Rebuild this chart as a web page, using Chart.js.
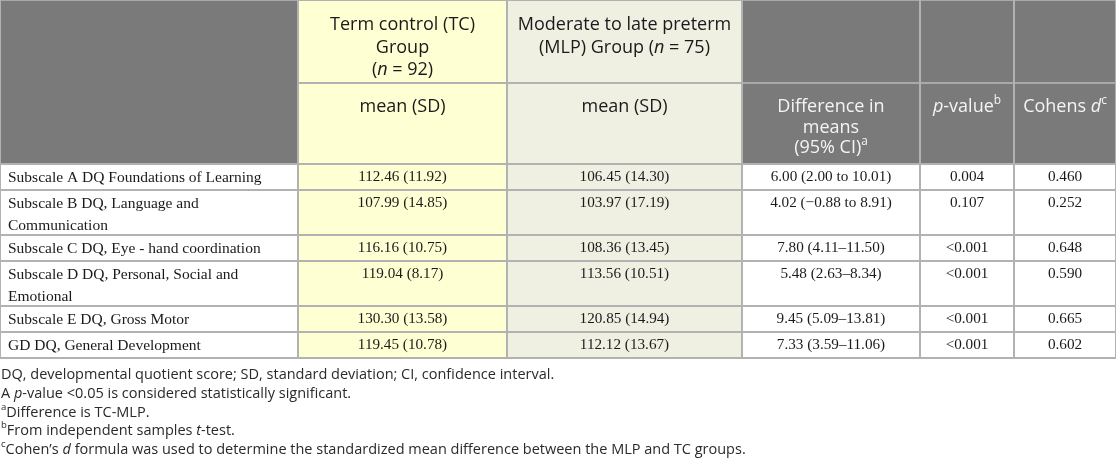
<!DOCTYPE html>
<html>
<head>
<meta charset="utf-8">
<script src="https://cdn.jsdelivr.net/npm/chart.js@4.4.1/dist/chart.umd.min.js"></script>
<style>
  html, body { margin: 0; padding: 0; background: #fff; }
  #wrap { width: 1116px; height: 467px; position: relative; }
</style>
</head>
<body>
<div id="wrap"><canvas id="dqTable"></canvas></div>
<script>
// ---- data ----
const rowLabels = [
  ['Subscale A DQ Foundations of Learning'],
  ['Subscale B DQ, Language and', 'Communication'],
  ['Subscale C DQ, Eye - hand coordination'],
  ['Subscale D DQ, Personal, Social and', 'Emotional'],
  ['Subscale E DQ, Gross Motor'],
  ['GD DQ, General Development']
];
const tcN = 92;
const mlpN = 75;
const tcMean = [112.46, 107.99, 116.16, 119.04, 130.30, 119.45];
const tcSD = [11.92, 14.85, 10.75, 8.17, 13.58, 10.78];
const mlpMean = [106.45, 103.97, 108.36, 113.56, 120.85, 112.12];
const mlpSD = [14.30, 17.19, 13.45, 10.51, 14.94, 13.67];
const meanDiff = [6.00, 4.02, 7.80, 5.48, 9.45, 7.33];
const ciLow = [2.00, -0.88, 4.11, 2.63, 5.09, 3.59];
const ciHigh = [10.01, 8.91, 11.50, 8.34, 13.81, 11.06];
const ciSep = [' to ', ' to ', '–', '–', '–', '–'];
const pValues = ['0.004', '0.107', '<0.001', '<0.001', '<0.001', '<0.001'];
const cohensD = [0.460, 0.252, 0.648, 0.590, 0.665, 0.602];

// header texts (_x_ = italic, ^x^ = superscript)
const headTop = [
  [],
  ['Term control (TC)', 'Group', '(_n_ = ' + tcN + ')'],
  ['Moderate to late preterm', '(MLP) Group (_n_ = ' + mlpN + ')'],
  [], [], []
];
const headSub = [
  [],
  ['mean (SD)'],
  ['mean (SD)'],
  ['Difference in', 'means', '(95% CI)^a^'],
  ['_p_-value^b^'],
  ['Cohens _d_^c^']
];
const footnotes = [
  'DQ, developmental quotient score; SD, standard deviation; CI, confidence interval.',
  'A _p_-value <0.05 is considered statistically significant.',
  '^a^Difference is TC-MLP.',
  '^b^From independent samples _t_-test.',
  '^c^Cohen\u2019s _d_ formula was used to determine the standardized mean difference between the MLP and TC groups.'
];

// ---- layout (table units) ----
const colEdges = [0, 298, 507, 742, 920, 1014, 1116];
const rowEdges = [0, 83, 164, 190, 235, 261, 306, 332, 358];
const footTop = 375, footStep = 18.7;

const fmt = v => (v < 0 ? '\u2212' + Math.abs(v).toFixed(2) : v.toFixed(2));
function bodyCells(i) {
  return [
    rowLabels[i],
    [tcMean[i].toFixed(2) + ' (' + tcSD[i].toFixed(2) + ')'],
    [mlpMean[i].toFixed(2) + ' (' + mlpSD[i].toFixed(2) + ')'],
    [meanDiff[i].toFixed(2) + ' (' + fmt(ciLow[i]) + ciSep[i] + fmt(ciHigh[i]) + ')'],
    [pValues[i]],
    [cohensD[i].toFixed(3)]
  ];
}

const HEAD_GRAY = '#7a7a7a';
const LINE = '#b2b2b2';
const HEAD_LINE = '#a9a9a9';
const YELLOW = '#ffffd4';
const BEIGE = '#efefe2';
const SANS = '"Open Sans"';
const SERIF = '"Liberation Serif"';

function parseRich(str) {
  const segs = [];
  const re = /(_[^_]+_|\^[^^]+\^)/g;
  let last = 0, m;
  while ((m = re.exec(str))) {
    if (m.index > last) segs.push({ t: str.slice(last, m.index) });
    const tok = m[0];
    if (tok[0] === '_') segs.push({ t: tok.slice(1, -1), i: true });
    else segs.push({ t: tok.slice(1, -1), s: true });
    last = m.index + tok.length;
  }
  if (last < str.length) segs.push({ t: str.slice(last) });
  return segs;
}

function drawRich(ctx, str, x, y, align, size, family, color) {
  const segs = parseRich(str);
  const fontOf = s => (s.i ? 'italic ' : '') + (s.s ? size * 0.66 : size) + 'px ' + family;
  let w = 0;
  segs.forEach(s => { ctx.font = fontOf(s); s.w = ctx.measureText(s.t).width; w += s.w; });
  let cx = align === 'center' ? x - w / 2 : x;
  ctx.fillStyle = color;
  ctx.textAlign = 'left';
  ctx.textBaseline = 'middle';
  segs.forEach(s => {
    ctx.font = fontOf(s);
    ctx.fillText(s.t, cx, s.s ? y - size * 0.38 : y);
    cx += s.w;
  });
}

const tablePlugin = {
  id: 'tablePlugin',
  afterDraw(chart) {
    const { ctx } = chart;
    const xs = chart.scales.x, ys = chart.scales.y;
    const X = v => xs.getPixelForValue(v);
    const Y = v => ys.getPixelForValue(v);
    const nCols = colEdges.length - 1;
    const nRows = rowEdges.length - 1;
    const top = rowEdges[0], bottom = rowEdges[nRows];
    ctx.save();

    // cell fills
    for (let c = 0; c < nCols; c++) {
      for (let r = 0; r < nRows; r++) {
        let fill = '#ffffff';
        if (c === 1) fill = YELLOW;
        else if (c === 2) fill = BEIGE;
        else if (r < 2) fill = HEAD_GRAY;
        ctx.fillStyle = fill;
        ctx.fillRect(X(colEdges[c]), Y(rowEdges[r]), X(colEdges[c + 1]) - X(colEdges[c]), Y(rowEdges[r + 1]) - Y(rowEdges[r]));
      }
    }

    // grid lines
    ctx.lineWidth = 2;
    for (let r = 0; r <= nRows; r++) {
      const y = Y(rowEdges[r]);
      for (let c = 0; c < nCols; c++) {
        if (r === 1 && c === 0) continue; // merged header cell
        ctx.strokeStyle = (r <= 1 && c !== 1 && c !== 2) ? HEAD_LINE : LINE;
        ctx.beginPath();
        ctx.moveTo(X(colEdges[c]), y);
        ctx.lineTo(X(colEdges[c + 1]), y);
        ctx.stroke();
      }
    }
    for (let c = 0; c <= nCols; c++) {
      const x = X(colEdges[c]);
      ctx.strokeStyle = LINE;
      ctx.beginPath();
      ctx.moveTo(x, Y(top));
      ctx.lineTo(x, Y(bottom));
      ctx.stroke();
    }

    // header text
    for (let c = 0; c < nCols; c++) {
      const cx = (X(colEdges[c]) + X(colEdges[c + 1])) / 2;
      const col = (c === 1 || c === 2) ? '#1a1a1a' : '#f4f4f4';
      headTop[c].forEach((t, k) => drawRich(ctx, t, cx, Y(rowEdges[0] + 25 + k * 22.5), 'center', 18, SANS, col));
      headSub[c].forEach((t, k) => drawRich(ctx, t, cx, Y(rowEdges[1] + 24 + k * 20.5), 'center', 18, SANS, col));
    }

    // body text
    for (let i = 0; i < rowLabels.length; i++) {
      const cells = bodyCells(i);
      const rTop = rowEdges[i + 2];
      for (let c = 0; c < nCols; c++) {
        cells[c].forEach((t, k) => {
          const y = Y(rTop + 13.5 + k * 22);
          if (c === 0) drawRich(ctx, t, X(colEdges[0] + 8), y, 'left', 15.5, SERIF, '#1a1a1a');
          else drawRich(ctx, t, (X(colEdges[c]) + X(colEdges[c + 1])) / 2, y, 'center', 15.2, SERIF, '#1a1a1a');
        });
      }
    }

    // footnotes
    footnotes.forEach((t, k) => drawRich(ctx, t, X(1), Y(footTop + k * footStep), 'left', 14.5, SANS, '#2a2a2a'));

    ctx.restore();
  }
};

new Chart(document.getElementById('dqTable'), {
  type: 'scatter',
  data: { datasets: [] },
  options: {
    responsive: true,
    maintainAspectRatio: false,
    animation: false,
    layout: { padding: 0 },
    plugins: { legend: { display: false }, tooltip: { enabled: false } },
    scales: {
      x: { type: 'linear', min: 0, max: 1116, display: false },
      y: { type: 'linear', min: 0, max: 467, reverse: true, display: false }
    }
  },
  plugins: [tablePlugin]
});
</script>
</body>
</html>
